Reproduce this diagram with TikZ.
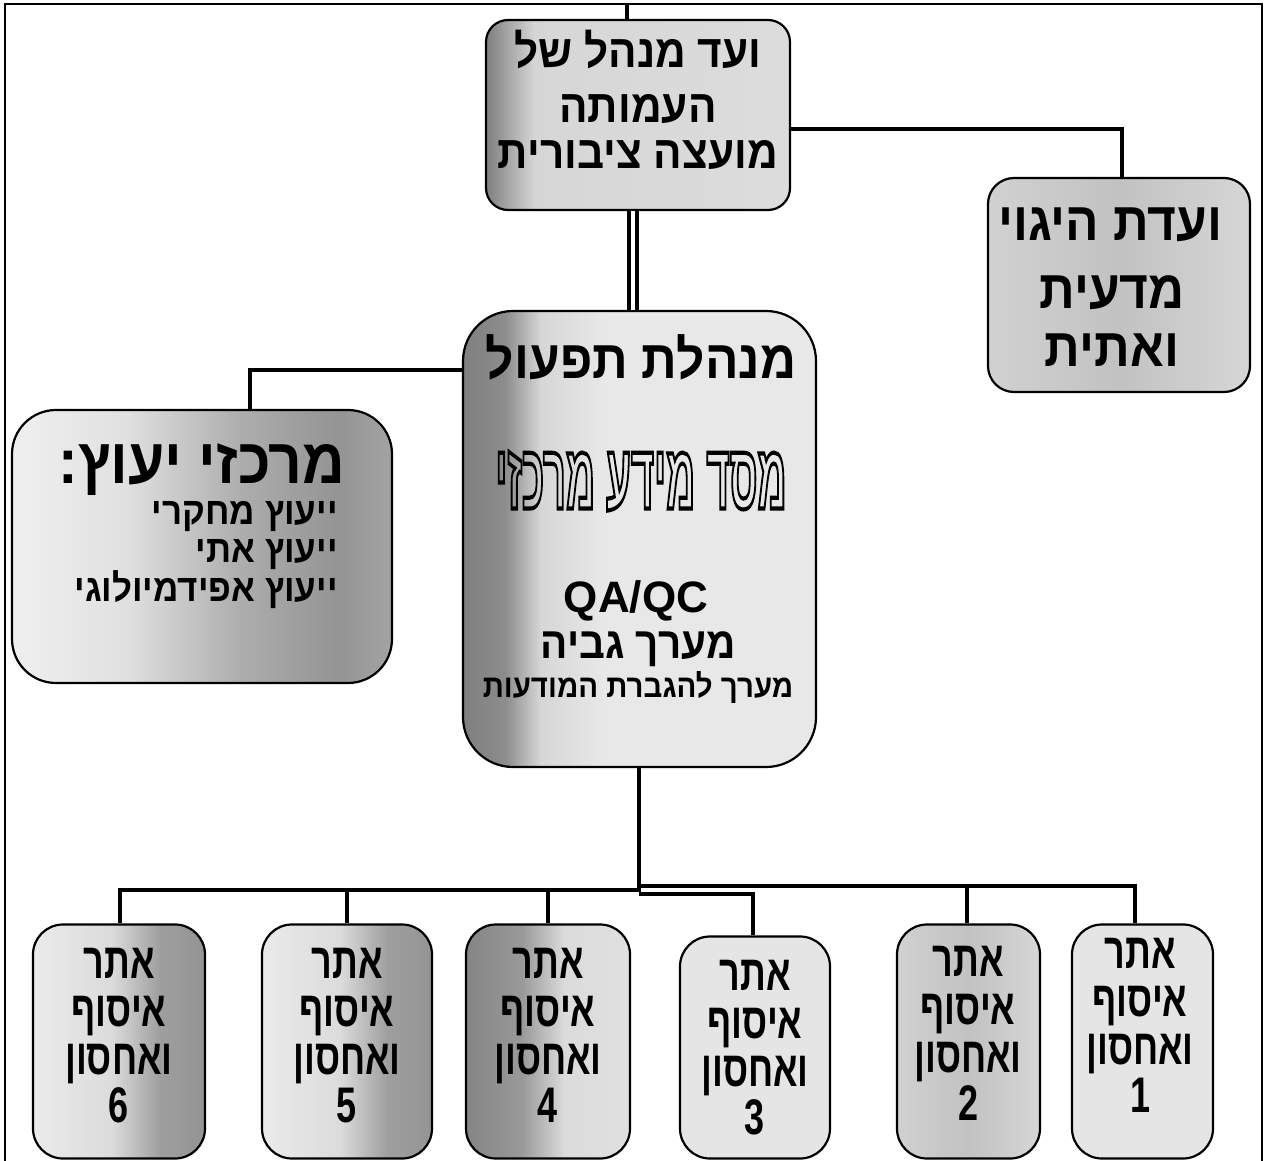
\documentclass[tikz,border=0pt]{standalone}
\usepackage{fontspec}
\usepackage{graphicx}
\TeXXeTstate=1
\newfontfamily\heb[Script=Hebrew,FakeStretch=0.92]{Liberation Sans}
\newfontfamily\hebw[Script=Hebrew]{Liberation Sans}
\newfontfamily\hebn[Script=Hebrew,FakeStretch=0.72]{Liberation Sans}
\newcommand{\rtl}[1]{\beginR #1\endR}
\newcommand{\outlinetext}[1]{\special{pdf:literal direct 1 Tr 0.9 w}#1\special{pdf:literal direct 0 Tr}}

\pgfdeclarehorizontalshading{darkleft}{100bp}{color(0bp)=(black!50); color(25bp)=(black!50); color(27bp)=(black!42); color(33bp)=(black!16); color(100bp)=(black!12)}
\pgfdeclarehorizontalshading{midshade}{100bp}{color(0bp)=(black!50); color(25bp)=(black!50); color(31bp)=(black!45); color(36bp)=(black!16); color(45bp)=(black!9); color(100bp)=(black!9)}
\pgfdeclarehorizontalshading{leftboxshade}{100bp}{color(0bp)=(black!6); color(25bp)=(black!6); color(40bp)=(black!12); color(55bp)=(black!32); color(68bp)=(black!42); color(75bp)=(black!36); color(100bp)=(black!36)}
\pgfdeclarehorizontalshading{rightdark}{100bp}{color(0bp)=(black!8); color(25bp)=(black!8); color(48bp)=(black!14); color(62bp)=(black!38); color(75bp)=(black!42); color(100bp)=(black!42)}
\pgfdeclarehorizontalshading{leftdark}{100bp}{color(0bp)=(black!48); color(25bp)=(black!48); color(42bp)=(black!40); color(55bp)=(black!14); color(100bp)=(black!10)}
\pgfdeclarehorizontalshading{flatlight}{100bp}{color(0bp)=(black!10); color(100bp)=(black!10)}
\pgfdeclarehorizontalshading{flatmid}{100bp}{color(0bp)=(black!18); color(25bp)=(black!18); color(50bp)=(black!24); color(75bp)=(black!16); color(100bp)=(black!16)}

\tikzset{
  box/.style={draw=black, line width=1.1pt, rectangle, inner sep=0pt, shade},
  conn/.style={draw=black, line width=2.3pt},
  thinconn/.style={draw=black, line width=2pt},
  frameline/.style={draw=black, line width=1.2pt},
  htxt/.style={inner sep=0pt, font=\heb\bfseries},
  ntxt/.style={inner sep=0pt, font=\hebn\bfseries\fontsize{25}{28}\selectfont},
}

\begin{document}
\begin{tikzpicture}[x=0.5pt, y=-0.5pt]
\useasboundingbox (0,0) rectangle (1269,1161);

% frame
\coordinate (fbl) at (5,1161);
\coordinate (ftl) at (5,4);
\coordinate (ftr) at (1262,4);
\coordinate (fbr) at (1262,1161);
\draw[frameline] (fbl) -- (ftl) -- (ftr) -- (fbr);

% boxes
\node[box, rounded corners=11pt, shading=darkleft, minimum width=152pt, minimum height=95pt] (T) at (638,115) {};
\node[box, rounded corners=13pt, shading=flatmid, minimum width=131pt, minimum height=107pt] (R) at (1119,285) {};
\node[box, rounded corners=25pt, shading=midshade, minimum width=176.5pt, minimum height=228pt] (M) at (639.5,539) {};
\node[box, rounded corners=22pt, shading=leftboxshade, minimum width=190pt, minimum height=136.5pt] (L) at (202,546.5) {};

\node[box, rounded corners=15pt, shading=rightdark, minimum width=86pt, minimum height=117pt] (B6) at (119,1041.5) {};
\node[box, rounded corners=15pt, shading=rightdark, minimum width=85pt, minimum height=117pt] (B5) at (347,1041.5) {};
\node[box, rounded corners=15pt, shading=leftdark, minimum width=82pt, minimum height=117pt] (B4) at (548,1041.5) {};
\node[box, rounded corners=15pt, shading=flatlight, minimum width=75pt, minimum height=111pt] (B3) at (755,1047.5) {};
\node[box, rounded corners=15pt, shading=flatmid, minimum width=71.5pt, minimum height=117pt] (B2) at (968.5,1041.5) {};
\node[box, rounded corners=15pt, shading=flatlight, minimum width=70.5pt, minimum height=117pt] (B1) at (1142.5,1041.5) {};

% connectors
\coordinate (topc) at (627,4);
\draw[conn] (topc) -- (topc |- T.north);

\coordinate (dx) at (633,0);
\draw[draw=black, line width=1.8pt, double=white, double distance=2.2pt] (T.south -| dx) -- (M.north -| dx);

\coordinate (rc) at (1122,129);
\draw[conn] (T.east |- rc) -- (rc) -- (R.north -| rc);

\coordinate (lc) at (250,370);
\draw[conn] (M.west |- lc) -- (lc) -- (L.north -| lc);

\coordinate (bj) at (639,890);
\coordinate (bl) at (120,890);
\coordinate (br) at (1135,886);
\coordinate (b3j) at (753,894);
\draw[conn] (M.south -| bj) -- (bj) -- (bl) -- (B6.north -| bl);
\draw[conn] (347,890) coordinate (b5j) -- (B5.north -| b5j);
\draw[thinconn] (548,890) coordinate (b4j) -- (B4.north -| b4j);
\draw[thinconn] (bj |- br) -- (br) -- (B1.north -| br);
\draw[thinconn] (967,886) coordinate (b2j) -- (B2.north -| b2j);
\draw[conn] (bj |- b3j) -- (b3j) -- (B3.north -| b3j);

% top box text
\node[htxt, font=\heb\bfseries\fontsize{23}{26}\selectfont, anchor=base] (t1) at (638,68) {\rtl{ועד מנהל של}};
\node[htxt, font=\heb\bfseries\fontsize{23}{26}\selectfont, anchor=base] (t2) at (638,123) {\rtl{העמותה}};
\node[htxt, font=\heb\bfseries\fontsize{23}{26}\selectfont, anchor=base] (t3) at (638,169) {\rtl{מועצה ציבורית}};

% right box text
\node[htxt, font=\heb\bfseries\fontsize{27}{30}\selectfont, anchor=base] (r1) at (1110,240) {\rtl{ועדת היגוי}};
\node[htxt, font=\heb\bfseries\fontsize{27}{30}\selectfont, anchor=base] (r2) at (1112,308) {\rtl{מדעית}};
\node[htxt, font=\heb\bfseries\fontsize{27}{30}\selectfont, anchor=base] (r3) at (1112,366) {\rtl{ואתית}};

% middle box text
\node[htxt, font=\heb\bfseries\fontsize{27}{30}\selectfont, anchor=base] (m1) at (641,378) {\rtl{מנהלת תפעול}};
\node[htxt, font=\hebw\bfseries\fontsize{20}{24}\selectfont] (m2) at (641,481) {\scalebox{1.0}[2.3]{\outlinetext{\rtl{מסד מידע מרכזי}}}};
\node[htxt, font=\hebw\bfseries\fontsize{22}{26}\selectfont, anchor=base] (m3) at (636,612) {QA/QC};
\node[htxt, font=\heb\bfseries\fontsize{22}{24}\selectfont, anchor=base] (m4) at (638,658) {\rtl{מערך גביה}};
\node[htxt, font=\heb\bfseries\fontsize{16}{18}\selectfont, anchor=base] (m5) at (638,697) {\rtl{מערך להגברת המודעות}};

% left box text
\node[htxt, font=\heb\bfseries\fontsize{32}{34}\selectfont, anchor=base] (l1) at (202,483) {\rtl{מרכזי יעוץ:}};
\node[htxt, font=\heb\bfseries\fontsize{19}{22}\selectfont, anchor=base east] (l2) at (338,524) {\rtl{ייעוץ מחקרי}};
\node[htxt, font=\heb\bfseries\fontsize{19}{22}\selectfont, anchor=base east] (l3) at (338,562) {\rtl{ייעוץ אתי}};
\node[htxt, font=\heb\bfseries\fontsize{19}{22}\selectfont, anchor=base east] (l4) at (338,601) {\rtl{ייעוץ אפידמיולוגי}};

% bottom box text
\foreach \n/\x/\y/\num in {B6/119/0/6, B5/347/0/5, B4/548/0/4, B3/755/12/3, B2/968/-2/2, B1/1140/-10/1}{
  \node[ntxt, anchor=base] (\n a) at (\x,978+\y) {\rtl{אתר}};
  \node[ntxt, anchor=base] (\n b) at (\x,1026+\y) {\rtl{איסוף}};
  \node[ntxt, anchor=base] (\n c) at (\x,1074+\y) {\rtl{ואחסון}};
  \node[ntxt, anchor=base] (\n d) at (\x,1122+\y) {\num};
}
\end{tikzpicture}
\end{document}
